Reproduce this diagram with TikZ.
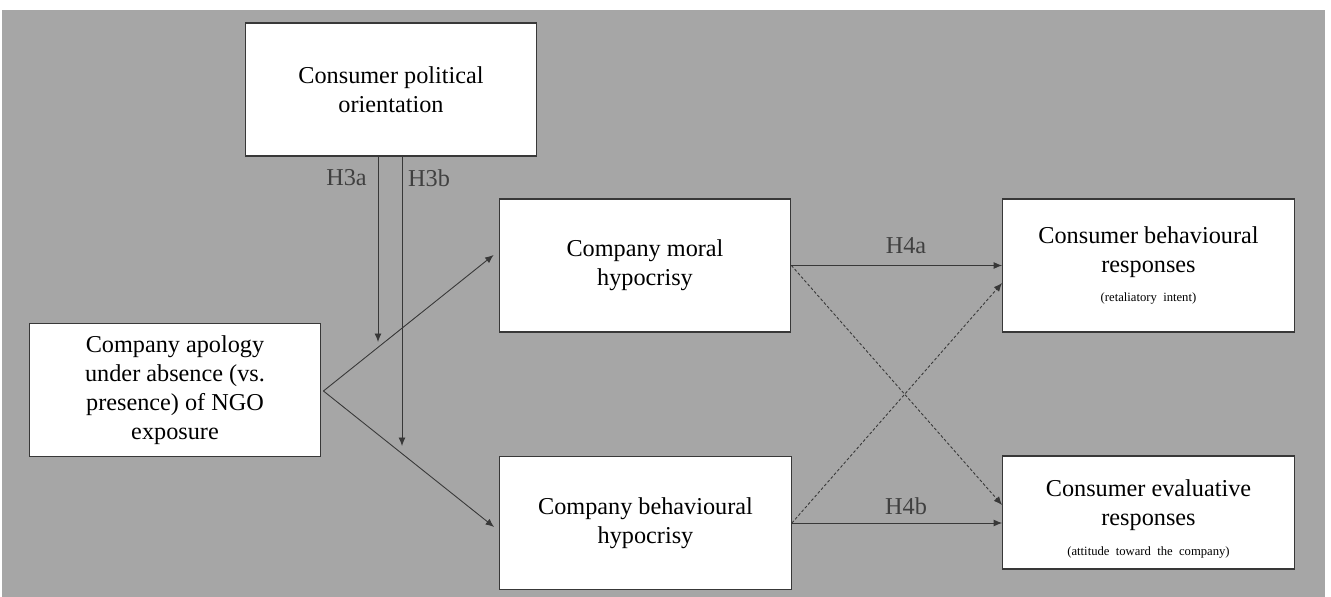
\documentclass[tikz,border=0pt]{standalone}
\usepackage{fontspec}
\setmainfont{Liberation Serif}
\usetikzlibrary{arrows.meta,positioning,calc}
\definecolor{Panel}{HTML}{A6A6A6}
\definecolor{Edge}{HTML}{383838}
\definecolor{Hyp}{HTML}{404040}
\newcommand{\smalltxt}{\fontsize{7.2}{8.6}\selectfont}

\begin{document}
\begin{tikzpicture}[x=0.02cm,y=-0.02cm,
  every node/.style={font=\fontsize{13.8}{16.5}\selectfont},
  box/.style={draw=Edge,line width=0.8pt,fill=white,align=center,inner sep=0pt,
    minimum width=5.83cm,minimum height=2.66cm},
  conn/.style={draw=Edge,line width=0.5pt,-{Latex[length=1.7mm,width=1.4mm]}},
  alt/.style={conn,dash pattern=on 1.6pt off 1.2pt},
  hyp/.style={text=Hyp}]
\useasboundingbox (0,0) rectangle (1331,597);
\fill[Panel] (2,10) rectangle (1325,597);
\node[box] (orient) at (391,89.5) {Consumer political\\orientation};
\node[box] (apology) at (175,390) {Company apology\\under absence (vs.\\presence) of NGO\\exposure};
\node[box] (moral) at (645,265.5) {Company moral\\hypocrisy};
\node[box] (behav) at (645.5,523) {Company behavioural\\hypocrisy};
\node[box] (retal) at (1148.5,265.5) {Consumer behavioural\\responses\\[0.5pt]{\smalltxt (retaliatory\ \ intent)}};
\node[box,minimum height=2.26cm] (evalr) at (1148.5,512.5)
 {\rule{0pt}{17.4pt}Consumer evaluative\\responses\\[0.5pt]{\smalltxt (attitude\ \ toward\ \ the\ \ company)}};
\coordinate (h3a) at (378,342);\coordinate (h3b) at (402,446);
\draw[conn] (orient.south -| h3a) -- (h3a);
\draw[conn] (orient.south -| h3b) -- (h3b);
\node[hyp] (labA) at (346.5,178) {H3a};
\node[hyp] (labB) at (429,178) {H3b};
\draw[conn] ($(apology.east)+(2,1)$) -- ($(moral.west)+(-5,-10.5)$);
\draw[conn] ($(apology.east)+(2,1)$) -- ($(behav.west)+(-5,4)$);
\draw[conn] (moral.east) -- (retal.west);
\draw[conn] (behav.east) -- (behav.east -| evalr.west);
\draw[alt] (moral.east) -- ($(evalr.west)+(0,-7.5)$);
\draw[alt] (behav.east) -- ($(retal.west)+(0,17.5)$);
\node[hyp] (labC) at (906,245.5) {H4a};
\node[hyp] (labD) at (906,506) {H4b};
\end{tikzpicture}
\end{document}
